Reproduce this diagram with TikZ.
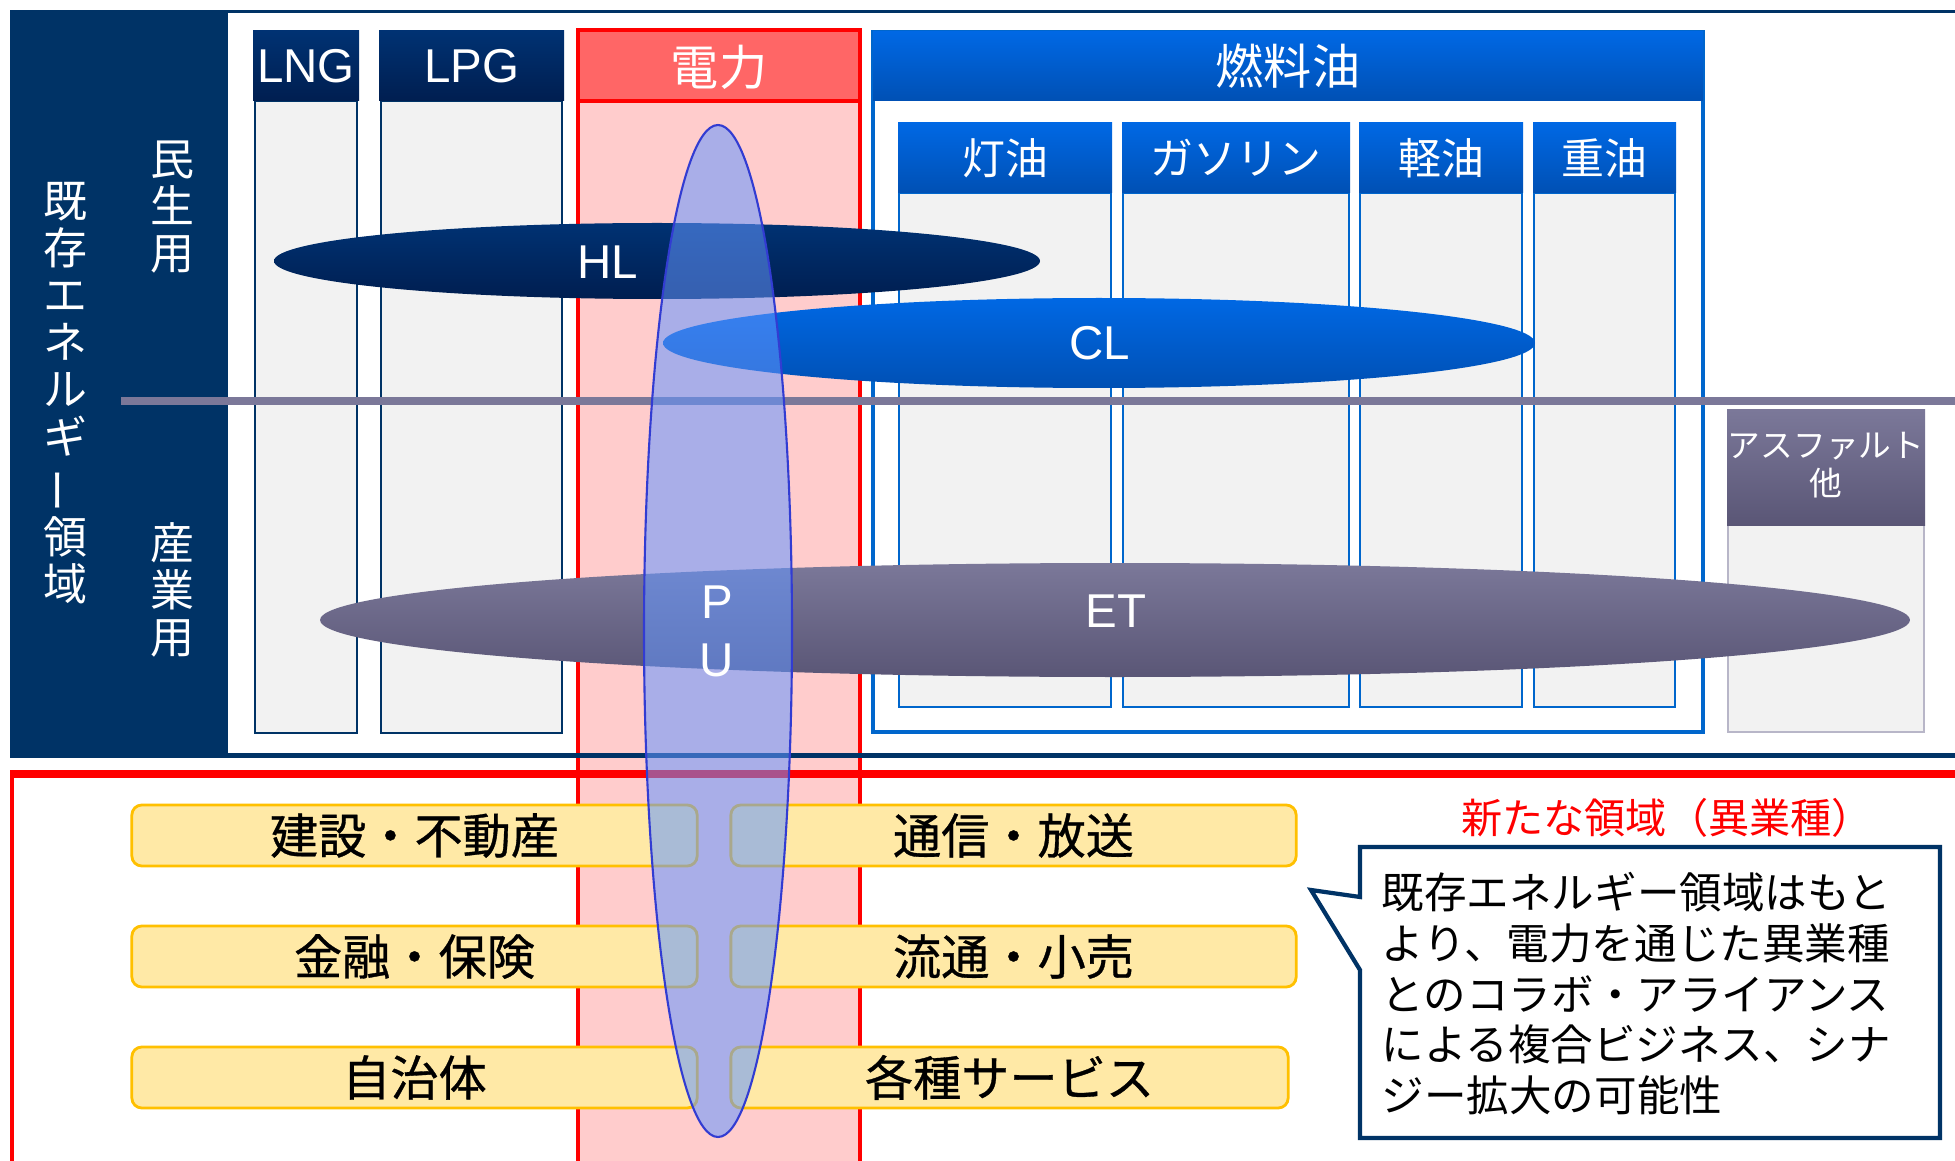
\documentclass[tikz,border=0pt]{standalone}
\usepackage{fontspec}
\setmainfont{Noto Sans CJK JP}
\newfontfamily\latinfont{Liberation Sans}
\newfontfamily\medfont{Noto Sans CJK JP}[FakeBold=0.7]
\usetikzlibrary{positioning}

\definecolor{navy}{RGB}{0,51,102}
\definecolor{navytop}{RGB}{0,50,115}
\definecolor{navybot}{RGB}{0,30,80}
\definecolor{bluetop}{RGB}{0,104,228}
\definecolor{bluebot}{RGB}{0,80,180}
\definecolor{blueline}{RGB}{0,102,204}
\definecolor{colfill}{RGB}{242,242,242}
\definecolor{pinkfill}{RGB}{255,204,204}
\definecolor{redhead}{RGB}{255,102,102}
\definecolor{grape}{RGB}{123,120,153}
\definecolor{grapebot}{RGB}{90,86,118}
\definecolor{asphline}{RGB}{184,182,200}
\definecolor{yellowfill}{RGB}{255,233,166}
\definecolor{yellowline}{RGB}{255,192,0}
\definecolor{pufill}{RGB}{100,150,255}
\definecolor{puline}{RGB}{50,60,210}

\tikzset{
  latinlbl/.style={text=white, font=\latinfont\fontsize{13.5}{14}\selectfont},
  jphdr/.style={text=white, font=\fontsize{13.7}{14}\selectfont},
  jpsub/.style={text=white, font=\fontsize{12.2}{13}\selectfont},
  vlabel/.style={text=white, align=center, inner sep=0pt, font=\fontsize{12.5}{13.4}\selectfont},
  ybox/.style={draw=yellowline, fill=yellowfill, line width=0.8pt, rounded corners=0.1cm,
    minimum width=5.65cm, minimum height=0.61cm, inner sep=0pt,
    font=\medfont\fontsize{13.7}{14}\selectfont},
}

\begin{document}
\begin{tikzpicture}[x=0.01cm,y=-0.01cm]
\useasboundingbox (0,0) rectangle (1955,1161);
\fill[white] (0,0) rectangle (1955,1161);

% existing energy frame
\fill[navy] (10,10) rectangle (228,757);
\fill[navy] (228,10) rectangle (1955,13.5);

% LNG / LPG
\foreach \xa/\xb/\lbl/\nm in {253/359/LNG/lng, 379/564/LPG/lpg}{
  \filldraw[fill=colfill, draw=navy, line width=0.6pt] (\xa+2,101) rectangle (\xb-2,733);
  \shade[top color=navytop, bottom color=navybot] (\xa,31) rectangle (\xb,101);
  \node[latinlbl] (hdr-\nm) at ({(\xa+\xb)/2},66) {\lbl};
}

% fuel oil
\filldraw[fill=white, draw=blueline, line width=1pt] (873,32) rectangle (1703,732);
\shade[top color=bluetop, bottom color=bluebot] (873,32) rectangle (1703,101);
\node[jphdr] (hdr-fuel) at (1288,66) {燃料油};
\foreach \xa/\xb/\lbl/\nm in {898/1112/灯油/kero, 1122/1350/ガソリン/gas, 1359/1523/軽油/diesel, 1533/1676/重油/heavy}{
  \filldraw[fill=colfill, draw=blueline, line width=0.7pt] (\xa+1,193) rectangle (\xb-1,707);
  \shade[top color=bluetop, bottom color=bluebot] (\xa,123) rectangle (\xb,193);
  \node[jpsub] (hdr-\nm) at ({(\xa+\xb)/2},158) {\lbl};
}

% asphalt etc.
\filldraw[fill=colfill, draw=asphline, line width=0.7pt] (1728,525) rectangle (1924,732);
\shade[top color=grape, bottom color=grapebot] (1727,410) rectangle (1925,525);
\node[text=white, align=center, font=\fontsize{9.3}{10.8}\selectfont] (hdr-asph) at (1826,465) {アスファルト\\他};

% electricity column
\fill[pinkfill] (578,101) rectangle (860,1161);
\draw[red, line width=1pt] (578,1161) -- (578,101) (860,101) -- (860,1161);
\filldraw[fill=redhead, draw=red, line width=1pt] (578,30) rectangle (860,101);
\node[jphdr] (hdr-elec) at (719,67) {電力};

% separators
\fill[navy] (10,753) rectangle (1955,758);
\fill[red] (10,770) rectangle (1955,778);
\fill[red] (10,770) rectangle (14,1161);

% vertical labels
\node[vlabel] (lbl-exist) at (65,393) {既\\存\\エ\\ネ\\ル\\ギ\\\rotatebox[origin=c]{90}{ー}\\領\\域};
\node[vlabel] (lbl-home) at (172,207) {民\\生\\用};
\node[vlabel] (lbl-ind) at (172,590) {産\\業\\用};

% new industries
\foreach \yc/\lbl/\nm in {835.5/建設・不動産/build, 956.5/金融・保険/fin, 1077.5/自治体/gov}
  \node[ybox] (box-\nm) at (414.5,\yc) {\lbl};
\node[ybox] (box-tele) at (1013.5,835.5) {通信・放送};
\node[ybox] (box-retail) at (1013.5,956.5) {流通・小売};
\node[ybox, minimum width=5.57cm] (box-serv) at (1009.5,1077.5) {各種サービス};

% HL / CL / ET
\shade[top color=navytop, bottom color=navybot] (657,261) ellipse [x radius=383, y radius=38];
\node[latinlbl] (lbl-hl) at (608,262) {HL};
\shade[top color=bluetop, bottom color=bluebot] (1099,343) ellipse [x radius=436, y radius=45];
\node[latinlbl] (lbl-cl) at (1100,343) {CL};
\shade[top color=grape, bottom color=grapebot] (1115,620) ellipse [x radius=795, y radius=57];
\node[latinlbl] (lbl-et) at (1116,611) {ET};

\draw[grape, line width=2pt] (121,401) -- (1955,401);

% PU
\filldraw[fill=pufill, fill opacity=0.55, draw=puline, line width=0.6pt] (718,631) ellipse [x radius=74, y radius=506];
\node[latinlbl] (lbl-p) at (717,602) {P};
\node[latinlbl] (lbl-u) at (717,660) {U};

% callout
\node[text=red, font=\fontsize{11.7}{12}\selectfont] (title-new) at (1667,818) {新たな領域（異業種）};
\filldraw[fill=white, draw=navy, line width=1.2pt, line join=miter]
  (1360,847) -- (1940,847) -- (1940,1138) -- (1360,1138) -- (1360,970) -- (1311,890) -- (1360,897) -- cycle;
\node[anchor=north west, align=left, inner sep=0pt, font=\fontsize{12.1}{14.4}\selectfont] (note) at (1381,872)
  {既存エネルギー領域はもと\\より、電力を通じた異業種\\とのコラボ・アライアンス\\による複合ビジネス、シナ\\ジー拡大の可能性};
\end{tikzpicture}
\end{document}
